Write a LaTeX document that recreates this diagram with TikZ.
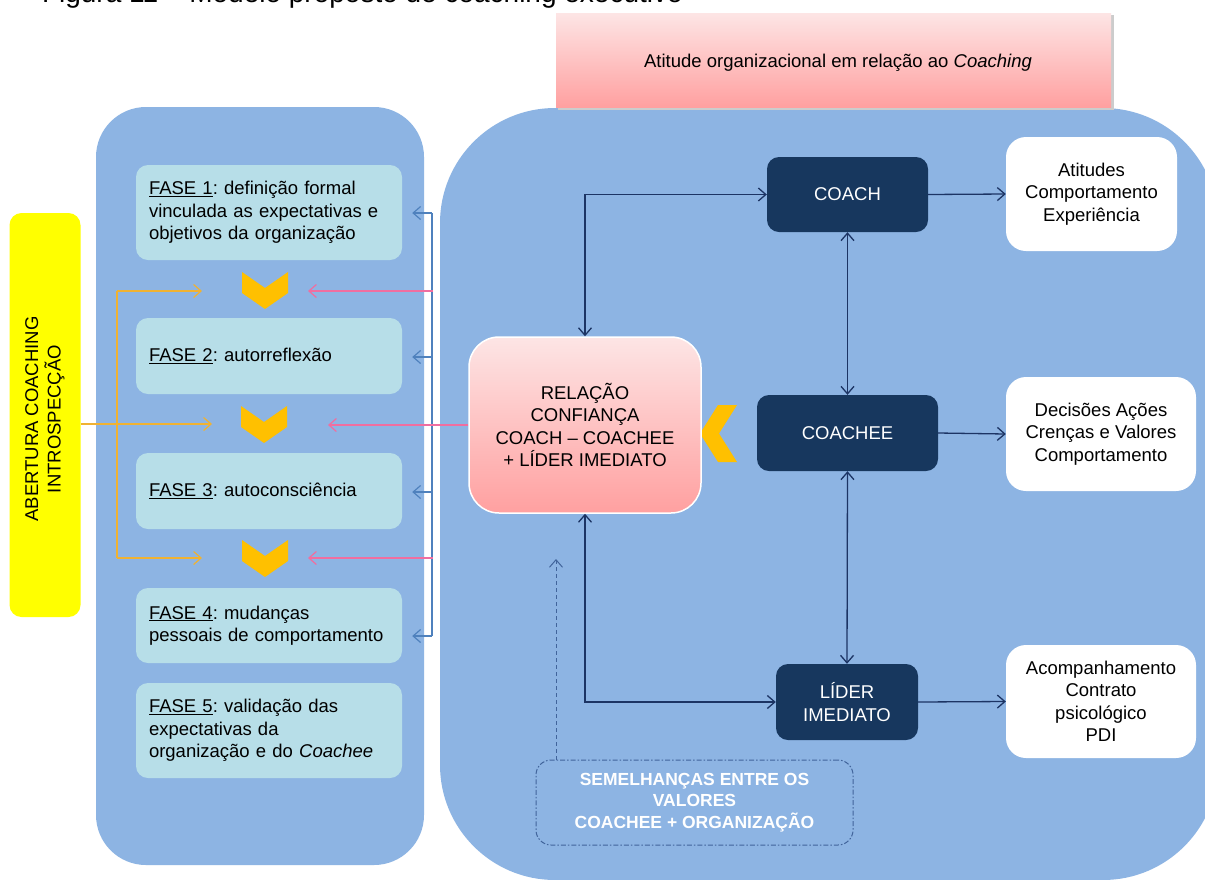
\documentclass[tikz,border=0pt]{standalone}
\usepackage{fontspec}
\setmainfont{Liberation Sans}
\usetikzlibrary{arrows.meta}
\definecolor{panel}{RGB}{141,180,227}
\definecolor{fasefill}{RGB}{183,222,232}
\definecolor{navy}{RGB}{23,55,94}
\definecolor{conn}{RGB}{28,52,100}
\definecolor{bracketblue}{RGB}{79,129,189}
\definecolor{pinkline}{RGB}{240,110,160}
\definecolor{orangeline}{RGB}{240,178,50}
\definecolor{chevgold}{RGB}{255,192,0}
\definecolor{pinktop}{RGB}{253,229,229}
\definecolor{pinkbot}{RGB}{255,160,160}
\definecolor{dashcol}{RGB}{65,100,155}
\definecolor{yellowbox}{RGB}{255,255,0}
\frenchspacing
\begin{document}
\begin{tikzpicture}[x=1pt,y=-1pt,
  >={Straight Barb[length=7.5pt,width=13pt]},
  txt/.style={font=\fontsize{18.5}{22.5}\selectfont},
  fasebox/.style={fill=fasefill, rounded corners=12pt, minimum width=266pt, text width=240pt, inner xsep=13pt, align=left, txt},
  navybox/.style={fill=navy, rounded corners=12pt, text=white, align=center, txt},
  whitebox/.style={fill=white, rounded corners=20pt, align=center, txt},
  navl/.style={draw=conn, line width=1.3pt},
  bluel/.style={draw=bracketblue, line width=1.2pt},
  pinkl/.style={draw=pinkline, line width=1.2pt},
  orl/.style={draw=orangeline, line width=1.2pt},
  dashl/.style={draw=dashcol, line width=1pt, dash pattern=on 5pt off 2pt on 1.5pt off 2pt},
  dasharr/.style={draw=dashcol, line width=1pt, dash pattern=on 4pt off 3pt},
  chev/.style={fill=chevgold}
]
\useasboundingbox (0,0) rectangle (1205,879);
\fill[white] (0,0) rectangle (1205,879);

% title (cut off by the page edge)
\node[anchor=base east, font=\fontsize{28}{32}\selectfont, inner sep=0pt] (title) at (683,2) {Figura 11 – Modelo proposto de coaching executivo};

% panels
\node[fill=panel, rounded corners=50pt, minimum width=328pt, minimum height=758pt, inner sep=0pt] (leftpanel) at (260,486) {};
\fill[panel, rounded corners=115pt] (440,108) rectangle (1218,880);

% top box
\fill[gray!40] (558,15) rectangle (1113.5,109.5);
\node[top color=pinktop, bottom color=pinkbot, minimum width=555pt, minimum height=94pt, inner sep=0pt] (orgbox) at (833.5,60) {};
\node[txt, inner sep=0pt] (orgtext) at (838,63) {Atitude organizacional em relação ao \textit{Coaching}};

% yellow box
\node[fill=yellowbox, rounded corners=12pt, minimum width=71pt, minimum height=404pt, inner sep=0pt] (abertura) at (45,415) {};
\node[rotate=90, align=center, txt, inner sep=0pt] (abtext) at (45,419) {ABERTURA COACHING\\INTROSPECÇÃO};

% phases
\node[fasebox, minimum height=95pt] (f1) at (269,212.5) {\underline{FASE 1}: definição formal\\vinculada as expectativas e\\objetivos da organização};
\node[fasebox, minimum height=76pt] (f2) at (269,356) {\underline{FASE 2}: autorreflexão};
\node[fasebox, minimum height=76pt] (f3) at (269,491) {\underline{FASE 3}: autoconsciência};
\node[fasebox, minimum height=75pt] (f4) at (269,625.5) {\underline{FASE 4}: mudanças\\pessoais de comportamento};
\node[fasebox, minimum height=95pt] (f5) at (269,730.5) {\underline{FASE 5}: validação das\\expectativas da\\organização e do \textit{Coachee}};

% chevrons
\fill[chev] (242,272) -- (265,288) -- (288,272) -- (288,293) -- (265,309) -- (242,293) -- cycle;
\fill[chev] (241,406) -- (264,422) -- (287,406) -- (287,427) -- (264,443) -- (241,427) -- cycle;
\fill[chev] (242,540) -- (265,556) -- (288,540) -- (288,561) -- (265,577) -- (242,561) -- cycle;
\fill[chev] (718,405) -- (737,405) -- (719,433.5) -- (737,462) -- (718,462) -- (700,433.5) -- cycle;

% relation box
\node[top color=pinktop, bottom color=pinkbot, draw=white, line width=1.5pt, rounded corners=30pt, minimum width=232pt, minimum height=176pt, align=center, txt] (rel) at (585,425) {RELAÇÃO\\CONFIANÇA\\COACH – COACHEE\\+ LÍDER IMEDIATO};

% navy boxes
\node[navybox, minimum width=161pt, minimum height=75pt] (coach) at (847.5,194.5) {COACH};
\node[navybox, minimum width=181pt, minimum height=76pt] (coachee) at (847.5,433) {COACHEE};
\node[navybox, minimum width=142pt, minimum height=76pt] (lider) at (847,702) {LÍDER\\IMEDIATO};

% white boxes
\node[whitebox, minimum width=171pt, minimum height=114pt] (atit) at (1091.5,194) {Atitudes\\Comportamento\\Experiência};
\node[whitebox, minimum width=190pt, minimum height=114pt] (dec) at (1101,434) {Decisões Ações\\Crenças e Valores\\Comportamento};
\node[whitebox, minimum width=190pt, minimum height=113pt] (acomp) at (1101,701.5) {Acompanhamento\\Contrato\\psicológico\\PDI};

% dashed box
\node[dashl, rounded corners=15pt, minimum width=317pt, minimum height=85pt, align=center, text=white, font=\fontsize{17.5}{21.5}\selectfont\bfseries] (sem) at (694.5,802.5) {SEMELHANÇAS ENTRE OS\\VALORES\\COACHEE + ORGANIZAÇÃO};

% navy connectors
\draw[navl,<->] (rel.north) |- (coach.west);
\draw[navl,<->] (rel.south) |- (lider.west);
\draw[navl,<->] (coach.south) -- (coachee.north);
\draw[navl,<->] (coachee.south) -- (lider.north);
\draw[navl,->] (coach.east) -- (atit.west);
\draw[navl,->] (coachee.east) -- (dec.west);
\draw[navl,->] (lider.east) -- (acomp.west);

% dashed arrow
\coordinate (dt) at (556,559);
\draw[dasharr,->] (sem.north -| dt) -- (dt);

% blue bracket
\coordinate (b1) at (432,213);
\coordinate (b2) at (432,357);
\coordinate (b3) at (432,492);
\coordinate (b4) at (432,636);
\draw[bluel] (b1) -- (b4);
\draw[bluel,->,shorten >=10pt] (b1) -- (b1 -| f1.east);
\draw[bluel,->,shorten >=10pt] (b2) -- (b2 -| f2.east);
\draw[bluel,->,shorten >=10pt] (b3) -- (b3 -| f3.east);
\draw[bluel,->,shorten >=10pt] (b4) -- (b4 -| f4.east);

% pink arrows
\coordinate (pk1s) at (433,291);
\coordinate (pk1e) at (308,291);
\coordinate (pk2e) at (328,425);
\coordinate (pk3s) at (433,558);
\coordinate (pk3e) at (308,558);
\draw[pinkl,->] (pk1s) -- (pk1e);
\draw[pinkl,->] (rel.west) -- (pk2e);
\draw[pinkl,->] (pk3s) -- (pk3e);

% orange arrows
\coordinate (oj1) at (117,291);
\coordinate (oj2) at (117,558);
\coordinate (ot1) at (202,291);
\coordinate (ot2) at (202,558);
\coordinate (ot3) at (212,424);
\draw[orl] (oj1) -- (oj2);
\draw[orl,->] (oj1) -- (ot1);
\draw[orl,->] (oj2) -- (ot2);
\draw[orl,->] (abertura.east |- ot3) -- (ot3);
\end{tikzpicture}
\end{document}
